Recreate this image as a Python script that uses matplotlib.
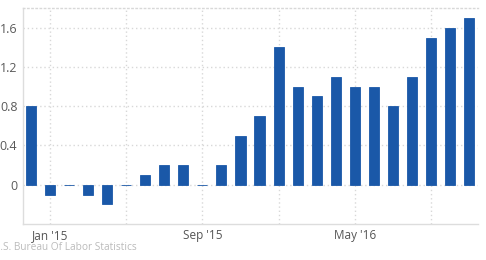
import matplotlib.pyplot as plt

months = ['Dec 14', 'Jan 15', 'Feb 15', 'Mar 15', 'Apr 15', 'May 15', 'Jun 15', 'Jul 15',
          'Aug 15', 'Sep 15', 'Oct 15', 'Nov 15', 'Dec 15', 'Jan 16', 'Feb 16', 'Mar 16',
          'Apr 16', 'May 16', 'Jun 16', 'Jul 16', 'Aug 16', 'Sep 16', 'Oct 16', 'Nov 16']
values = [0.8, -0.1, 0.0, -0.1, -0.2, 0.0, 0.1, 0.2, 0.2, 0.0, 0.2, 0.5,
          0.7, 1.4, 1.0, 0.9, 1.1, 1.0, 1.0, 0.8, 1.1, 1.5, 1.6, 1.7]
grid_pos = [1, 5, 9, 13, 17, 21]
grid_labels = ["Jan '15", '', "Sep '15", '', "May '16", '']
y_ticks = [0, 0.4, 0.8, 1.2, 1.6]
y_labels = ['0', '0.4', '0.8', '1.2', '1.6']

plt.rcParams['font.family'] = ['Open Sans', 'DejaVu Sans']

fig = plt.figure(figsize=(4.86, 2.6), dpi=100)
ax = fig.add_axes([0.0473, 0.1385, 0.9362, 0.8305])

x = range(len(values))
ax.bar(x, values, width=0.53, color='#1a58a8', edgecolor='#1a58a8', linewidth=0.6, zorder=3)

ax.set_xlim(-0.42, 23.47)
ax.set_ylim(-0.4, 1.8)

ax.set_xticks(grid_pos)
ax.set_xticklabels(grid_labels, fontsize=8.5, color='#555555')
ax.set_yticks(y_ticks)
ax.set_yticklabels(y_labels, fontsize=9, color='#5a5a5a')
ax.tick_params(axis='both', length=0)
ax.tick_params(axis='y', pad=4)
ax.tick_params(axis='x', pad=3.5)

ax.grid(True, color='#d8d8d8', linestyle=(0, (1, 2)), linewidth=1, zorder=0)

for side in ['left', 'bottom']:
    ax.spines[side].set_color('#dddddd')
    ax.spines[side].set_linewidth(1)
ax.spines['right'].set_visible(False)
ax.spines['top'].set_color('#d8d8d8')
ax.spines['top'].set_linestyle((0, (1, 2)))
ax.spines['top'].set_linewidth(1)

fig.text(-0.015, 0.05, 'U.S. Bureau Of Labor Statistics', fontsize=7.3, color='#bbbbbb',
         ha='left', va='center')

fig.savefig('out.png', dpi=100)
